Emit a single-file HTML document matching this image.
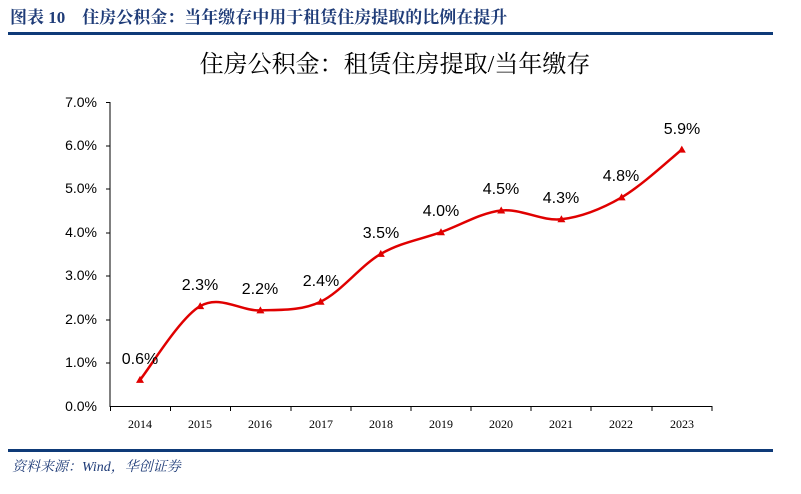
<!DOCTYPE html>
<html><head><meta charset="utf-8"><style>
body{margin:0;background:#fff;width:801px;height:489px;overflow:hidden}
</style></head><body>
<svg width="801" height="489" xmlns="http://www.w3.org/2000/svg" font-family="Liberation Serif, Noto Serif CJK SC, serif">
<text x="10" y="23" font-size="17" font-weight="bold" fill="#1f3c78">图表 10　住房公积金：当年缴存中用于租赁住房提取的比例在提升</text>
<rect x="8" y="32" width="765" height="3" fill="#0e3a78"/>
<text x="395" y="72" font-size="24" text-anchor="middle" fill="#000">住房公积金：租赁住房提取/当年缴存</text>
<g font-size="14" font-family="Liberation Sans, sans-serif" text-anchor="end" fill="#000">
<text x="97" y="411">0.0%</text><text x="97" y="367">1.0%</text><text x="97" y="324">2.0%</text><text x="97" y="280">3.0%</text><text x="97" y="237">4.0%</text><text x="97" y="193">5.0%</text><text x="97" y="150">6.0%</text><text x="97" y="107">7.0%</text>
</g>
<line x1="110" y1="102" x2="110" y2="407" stroke="#000"/>
<line x1="110" y1="406.5" x2="712" y2="406.5" stroke="#000"/>
<g stroke="#000">
<line x1="110" y1="102.5" x2="106" y2="102.5"/><line x1="110" y1="146" x2="106" y2="146"/><line x1="110" y1="189" x2="106" y2="189"/><line x1="110" y1="233" x2="106" y2="233"/><line x1="110" y1="276" x2="106" y2="276"/><line x1="110" y1="320" x2="106" y2="320"/><line x1="110" y1="363" x2="106" y2="363"/>
<line x1="110.5" y1="406" x2="110.5" y2="411"/><line x1="170.5" y1="406" x2="170.5" y2="411"/><line x1="230.5" y1="406" x2="230.5" y2="411"/><line x1="291" y1="406" x2="291" y2="411"/><line x1="351" y1="406" x2="351" y2="411"/><line x1="411" y1="406" x2="411" y2="411"/><line x1="471" y1="406" x2="471" y2="411"/><line x1="531" y1="406" x2="531" y2="411"/><line x1="591" y1="406" x2="591" y2="411"/><line x1="652" y1="406" x2="652" y2="411"/><line x1="712" y1="406" x2="712" y2="411"/>
</g>
<g font-size="12" text-anchor="middle" fill="#000">
<text x="140" y="428">2014</text><text x="200" y="428">2015</text><text x="260" y="428">2016</text><text x="321" y="428">2017</text><text x="381" y="428">2018</text><text x="441" y="428">2019</text><text x="501" y="428">2020</text><text x="561" y="428">2021</text><text x="621" y="428">2022</text><text x="682" y="428">2023</text>
</g>
<path fill="none" stroke="#e00000" stroke-width="2.5" d="M140,379.9 C150,367.6 180.1,317.7 200.2,306.1 C220.3,294.5 240.3,311.1 260.4,310.4 C280.5,309.7 300.5,311.1 320.6,301.7 C340.7,292.3 360.7,265.5 380.8,253.9 C400.9,242.3 420.9,239.4 441,232.2 C461.1,225 481.1,212.7 501.2,210.5 C521.3,208.3 541.3,221.4 561.4,219.2 C581.5,217 601.5,209 621.6,197.4 C641.7,185.8 671.8,157.6 681.8,149.6"/>
<g fill="#e00000">
<polygon points="140,375.9 136,382.9 144,382.9"/>
<polygon points="200.2,302.1 196.2,309.1 204.2,309.1"/>
<polygon points="260.4,306.4 256.4,313.4 264.4,313.4"/>
<polygon points="320.6,297.7 316.6,304.7 324.6,304.7"/>
<polygon points="380.8,249.9 376.8,256.9 384.8,256.9"/>
<polygon points="441,228.2 437,235.2 445,235.2"/>
<polygon points="501.2,206.5 497.2,213.5 505.2,213.5"/>
<polygon points="561.4,215.2 557.4,222.2 565.4,222.2"/>
<polygon points="621.6,193.4 617.6,200.4 625.6,200.4"/>
<polygon points="681.8,145.6 677.8,152.6 685.8,152.6"/>
</g>
<g font-size="16" font-family="Liberation Sans, sans-serif" text-anchor="middle" fill="#000">
<text x="140" y="364">0.6%</text>
<text x="200" y="290">2.3%</text>
<text x="260" y="294">2.2%</text>
<text x="321" y="286">2.4%</text>
<text x="381" y="238">3.5%</text>
<text x="441" y="216">4.0%</text>
<text x="501" y="194">4.5%</text>
<text x="561" y="203">4.3%</text>
<text x="621" y="181">4.8%</text>
<text x="682" y="134">5.9%</text>
</g>
<rect x="8" y="449" width="765" height="3" fill="#0e3a78"/>
<text x="12" y="471" font-size="14" font-style="italic" fill="#1f3c78">资料来源：Wind，华创证券</text>
</svg>
</body></html>
